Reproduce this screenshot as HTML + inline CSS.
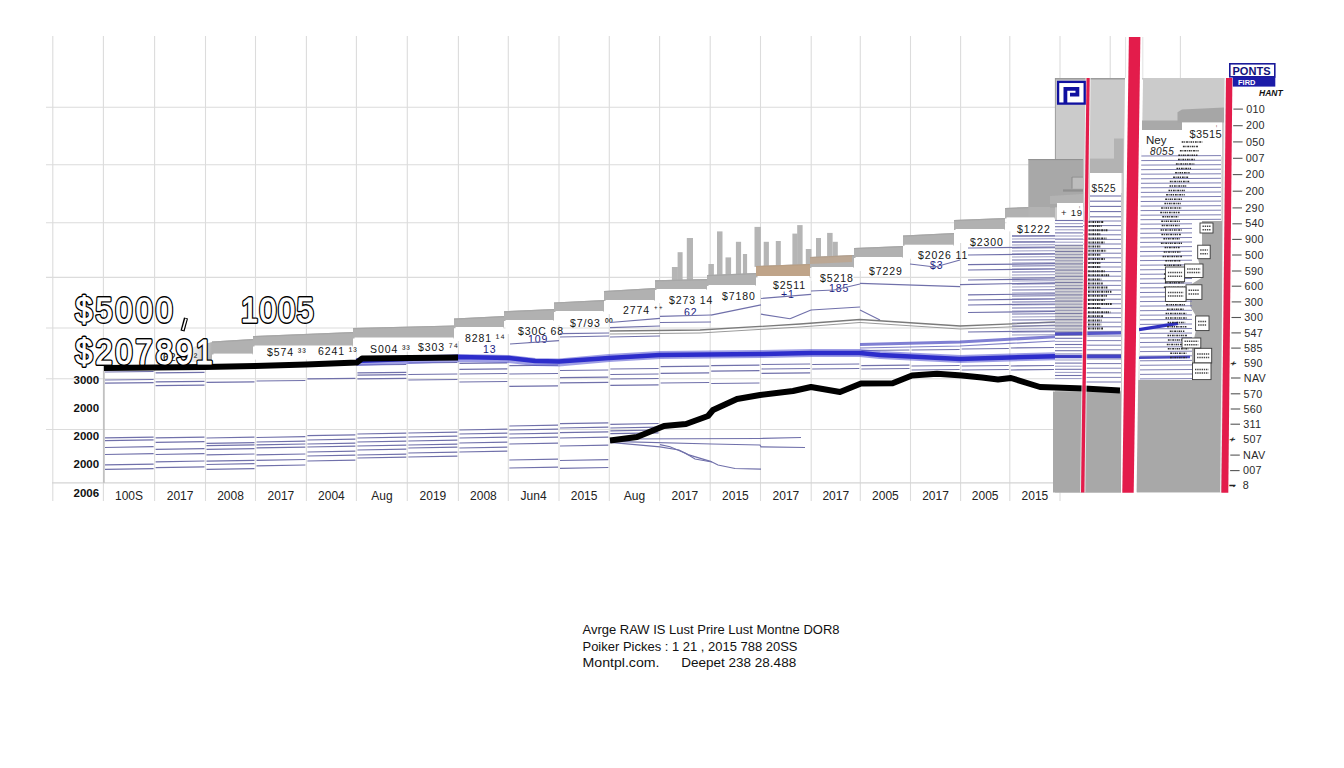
<!DOCTYPE html><html><head><meta charset="utf-8"><style>html,body{margin:0;padding:0;background:#fff;width:1344px;height:768px;overflow:hidden}svg{display:block;font-family:"Liberation Sans",sans-serif}</style></head><body>
<svg width="1344" height="768" viewBox="0 0 1344 768">
<rect width="1344" height="768" fill="#fff"/>
<path d="M52.8 36V501 M103.4 36V501 M154.6 36V501 M205.5 36V501 M255.5 36V501 M306.4 36V501 M356.4 36V501 M407.3 36V501 M458.4 36V501 M508.3 36V501 M559 36V501 M609.3 36V501 M659.6 36V501 M710.2 36V501 M760.5 36V501 M811.2 36V501 M860.3 36V501 M910.5 36V501 M960.6 36V501 M1009.8 36V501 M1060 36V501 M46 107.2H1060 M46 164.7H1060 M46 222.7H1060 M46 277.4H1060 M46 328H1060 M46 378.8H1060 M46 429.5H1060 M1110.2 36V78M1180.4 36V78" stroke="#dcdcdc" stroke-width="1.1" fill="none"/>
<path d="M52 482.8H1055" stroke="#d4d4d4" stroke-width="1.2"/>
<path d="M104 365V482.8" stroke="#b0b0b0" stroke-width="1.2"/>
<rect x="671.9" y="267" width="6" height="13.8" fill="#b5b5b5"/>
<rect x="677.6" y="252.2" width="5" height="28.5" fill="#b5b5b5"/>
<rect x="686.8" y="238" width="6.2" height="42.4" fill="#b5b5b5"/>
<rect x="708.4" y="264" width="5.5" height="11.8" fill="#b5b5b5"/>
<rect x="717" y="231.4" width="5.5" height="44.1" fill="#b5b5b5"/>
<rect x="725.5" y="257.4" width="5.6" height="17.7" fill="#b5b5b5"/>
<rect x="735.9" y="241.8" width="5.2" height="32.9" fill="#b5b5b5"/>
<rect x="742.9" y="254" width="4.2" height="20.4" fill="#b5b5b5"/>
<rect x="754.5" y="226.9" width="6.4" height="40.0" fill="#b5b5b5"/>
<rect x="763.7" y="241.8" width="5.2" height="24.8" fill="#b5b5b5"/>
<rect x="775.8" y="241" width="5" height="25.2" fill="#b5b5b5"/>
<rect x="792.4" y="233.6" width="5.2" height="32.0" fill="#b5b5b5"/>
<rect x="797.2" y="225.1" width="5.4" height="40.3" fill="#b5b5b5"/>
<rect x="805.8" y="249" width="5.6" height="16.1" fill="#b5b5b5"/>
<rect x="816" y="238" width="5" height="19.6" fill="#b5b5b5"/>
<rect x="827.1" y="232.9" width="5.5" height="24.2" fill="#b5b5b5"/>
<rect x="832.6" y="241.8" width="5.2" height="15.1" fill="#b5b5b5"/>
<polygon points="212,341.5 253,339 253,354.6 212,354.6" fill="#b1b1b1"/>
<line x1="212" y1="342.1" x2="253" y2="339.6" stroke="#a6a6a6" stroke-width="1.2"/>
<rect x="213.5" y="353.6" width="39" height="14" fill="#fff"/>
<polygon points="253,336 353,332 353,346.5 253,346.5" fill="#b1b1b1"/>
<line x1="253" y1="336.6" x2="353" y2="332.6" stroke="#a6a6a6" stroke-width="1.2"/>
<rect x="254.5" y="345.5" width="98" height="14" fill="#fff"/>
<polygon points="353,328 454,325.4 454,338.5 353,338.5" fill="#b1b1b1"/>
<line x1="353" y1="328.6" x2="454" y2="326.0" stroke="#a6a6a6" stroke-width="1.2"/>
<rect x="354.5" y="337.5" width="99" height="14" fill="#fff"/>
<polygon points="454,318.5 504,316 504,328 454,328" fill="#b1b1b1"/>
<line x1="454" y1="319.1" x2="504" y2="316.6" stroke="#a6a6a6" stroke-width="1.2"/>
<rect x="455.5" y="327" width="48" height="14" fill="#fff"/>
<polygon points="504,311.3 554,309 554,321 504,321" fill="#b1b1b1"/>
<line x1="504" y1="311.90000000000003" x2="554" y2="309.6" stroke="#a6a6a6" stroke-width="1.2"/>
<rect x="505.5" y="320" width="48" height="14" fill="#fff"/>
<polygon points="554,302.4 604,300 604,312 554,312" fill="#b1b1b1"/>
<line x1="554" y1="303.0" x2="604" y2="300.6" stroke="#a6a6a6" stroke-width="1.2"/>
<rect x="555.5" y="311" width="48" height="14" fill="#fff"/>
<polygon points="604,291 655,288 655,301 604,301" fill="#b1b1b1"/>
<line x1="604" y1="291.6" x2="655" y2="288.6" stroke="#a6a6a6" stroke-width="1.2"/>
<rect x="605.5" y="300" width="49" height="14" fill="#fff"/>
<polygon points="655,280.3 707,279 707,290 655,290" fill="#b1b1b1"/>
<line x1="655" y1="280.90000000000003" x2="707" y2="279.6" stroke="#a6a6a6" stroke-width="1.2"/>
<rect x="656.5" y="289" width="50" height="14" fill="#fff"/>
<polygon points="707,275 756,273 756,286 707,286" fill="#b1b1b1"/>
<line x1="707" y1="275.6" x2="756" y2="273.6" stroke="#a6a6a6" stroke-width="1.2"/>
<rect x="708.5" y="285" width="47" height="14" fill="#fff"/>
<polygon points="756,266 810,264 810,277 756,277" fill="#b1b1b1"/>
<line x1="756" y1="266.6" x2="810" y2="264.6" stroke="#a6a6a6" stroke-width="1.2"/>
<rect x="757.5" y="276" width="52" height="14" fill="#fff"/>
<polygon points="810,257 854,255 854,268 810,268" fill="#b1b1b1"/>
<line x1="810" y1="257.6" x2="854" y2="255.6" stroke="#a6a6a6" stroke-width="1.2"/>
<rect x="811.5" y="267" width="42" height="14" fill="#fff"/>
<polygon points="854,248 903,246 903,258 854,258" fill="#b1b1b1"/>
<line x1="854" y1="248.6" x2="903" y2="246.6" stroke="#a6a6a6" stroke-width="1.2"/>
<rect x="855.5" y="257" width="47" height="14" fill="#fff"/>
<polygon points="903,235.5 954,233 954,245.7 903,245.7" fill="#b1b1b1"/>
<line x1="903" y1="236.1" x2="954" y2="233.6" stroke="#a6a6a6" stroke-width="1.2"/>
<rect x="904.5" y="244.7" width="49" height="14" fill="#fff"/>
<polygon points="954,220 1005,218 1005,230 954,230" fill="#b1b1b1"/>
<line x1="954" y1="220.6" x2="1005" y2="218.6" stroke="#a6a6a6" stroke-width="1.2"/>
<rect x="955.5" y="229" width="49" height="14" fill="#fff"/>
<polygon points="1005,208 1055,206 1055,218.4 1005,218.4" fill="#b1b1b1"/>
<line x1="1005" y1="208.6" x2="1055" y2="206.6" stroke="#a6a6a6" stroke-width="1.2"/>
<rect x="1006.5" y="217.4" width="48" height="14" fill="#fff"/>
<polygon points="756,266 810,264 810,276 756,276" fill="#d8914a" fill-opacity="0.38"/>
<polygon points="810,257 852,255 852,262 810,264" fill="#d8914a" fill-opacity="0.28"/>
<defs><linearGradient id="gg" x1="0" y1="0" x2="1" y2="0"><stop offset="0" stop-color="#fff" stop-opacity="0"/><stop offset="1" stop-color="#b0b0b0"/></linearGradient></defs>
<polygon points="175,352 212,342 212,362 175,362" fill="url(#gg)"/>
<text x="163" y="361" font-size="10.5" fill="#151515" letter-spacing="0.9">6229 ²</text>
<text x="267" y="356" font-size="10.5" fill="#151515" letter-spacing="0.9">$574 ³³</text>
<text x="318" y="355" font-size="10.5" fill="#151515" letter-spacing="0.9">6241 ¹³</text>
<text x="370" y="352.5" font-size="10.5" fill="#151515" letter-spacing="0.9">S004 ³³</text>
<text x="418" y="350.5" font-size="10.5" fill="#151515" letter-spacing="0.9">$303 ⁷⁴</text>
<text x="465" y="342" font-size="10.5" fill="#151515" letter-spacing="0.9">8281 ¹⁴</text>
<text x="483" y="353" font-size="10.5" fill="#1a1a80" letter-spacing="0.9">13</text>
<text x="518" y="335" font-size="10.5" fill="#151515" letter-spacing="0.9">$30C 68</text>
<text x="528" y="343" font-size="10.5" fill="#1a1a80" letter-spacing="0.9">109</text>
<text x="570" y="327" font-size="10.5" fill="#151515" letter-spacing="0.9">$7/93 ⁰⁰</text>
<text x="623" y="314" font-size="10.5" fill="#151515" letter-spacing="0.9">2774 ⁺⁺</text>
<text x="669" y="304" font-size="10.5" fill="#151515" letter-spacing="0.9">$273 14</text>
<text x="684" y="316" font-size="10.5" fill="#1a1a80" letter-spacing="0.9">62</text>
<text x="722" y="300" font-size="10.5" fill="#151515" letter-spacing="0.9">$7180</text>
<text x="773" y="289" font-size="10.5" fill="#151515" letter-spacing="0.9">$2511</text>
<text x="781" y="298" font-size="10.5" fill="#1a1a80" letter-spacing="0.9">+1</text>
<text x="820" y="282" font-size="10.5" fill="#151515" letter-spacing="0.9">$5218</text>
<text x="829" y="292" font-size="10.5" fill="#1a1a80" letter-spacing="0.9">185</text>
<text x="869" y="275" font-size="10.5" fill="#151515" letter-spacing="0.9">$7229</text>
<text x="918" y="259" font-size="10.5" fill="#151515" letter-spacing="0.9">$2026 11</text>
<text x="930" y="269" font-size="10.5" fill="#1a1a80" letter-spacing="0.9">$3</text>
<text x="970" y="246" font-size="10.5" fill="#151515" letter-spacing="0.9">$2300</text>
<text x="1017" y="233" font-size="10.5" fill="#151515" letter-spacing="0.9">$1222</text>
<line x1="105" y1="372" x2="153.6" y2="371.5" stroke="#7070aa" stroke-width="1.2"/>
<line x1="105" y1="380" x2="153.6" y2="379.5" stroke="#7070aa" stroke-width="1.2"/>
<line x1="105" y1="383.2" x2="153.6" y2="382.7" stroke="#7070aa" stroke-width="1.2"/>
<line x1="155.6" y1="372.8" x2="204.5" y2="372.3" stroke="#7070aa" stroke-width="1.2"/>
<line x1="155.6" y1="381.9" x2="204.5" y2="381.4" stroke="#7070aa" stroke-width="1.2"/>
<line x1="155.6" y1="385.6" x2="204.5" y2="385.1" stroke="#7070aa" stroke-width="1.2"/>
<line x1="206.5" y1="382.3" x2="254.5" y2="381.8" stroke="#7070aa" stroke-width="1.2"/>
<line x1="256.5" y1="381" x2="305.4" y2="380.5" stroke="#7070aa" stroke-width="1.2"/>
<line x1="307.4" y1="378.8" x2="355.4" y2="378.3" stroke="#7070aa" stroke-width="1.2"/>
<line x1="357.4" y1="365" x2="406.3" y2="364.5" stroke="#7070aa" stroke-width="1.2"/>
<line x1="357.4" y1="372.9" x2="406.3" y2="372.4" stroke="#7070aa" stroke-width="1.2"/>
<line x1="357.4" y1="375.2" x2="406.3" y2="374.7" stroke="#7070aa" stroke-width="1.2"/>
<line x1="357.4" y1="378.8" x2="406.3" y2="378.3" stroke="#7070aa" stroke-width="1.2"/>
<line x1="408.3" y1="363" x2="457.4" y2="362.5" stroke="#7070aa" stroke-width="1.2"/>
<line x1="408.3" y1="374.5" x2="457.4" y2="374.0" stroke="#7070aa" stroke-width="1.2"/>
<line x1="408.3" y1="380" x2="457.4" y2="379.5" stroke="#7070aa" stroke-width="1.2"/>
<line x1="459.4" y1="363.3" x2="507.3" y2="362.8" stroke="#7070aa" stroke-width="1.2"/>
<line x1="459.4" y1="369.3" x2="507.3" y2="368.8" stroke="#7070aa" stroke-width="1.2"/>
<line x1="459.4" y1="374" x2="507.3" y2="373.5" stroke="#7070aa" stroke-width="1.2"/>
<line x1="459.4" y1="382" x2="507.3" y2="381.5" stroke="#7070aa" stroke-width="1.2"/>
<line x1="509.3" y1="365.7" x2="558" y2="365.2" stroke="#7070aa" stroke-width="1.2"/>
<line x1="509.3" y1="374" x2="558" y2="373.5" stroke="#7070aa" stroke-width="1.2"/>
<line x1="509.3" y1="386.4" x2="558" y2="385.9" stroke="#7070aa" stroke-width="1.2"/>
<line x1="560" y1="370.5" x2="608.3" y2="370.0" stroke="#7070aa" stroke-width="1.2"/>
<line x1="560" y1="377.6" x2="608.3" y2="377.1" stroke="#7070aa" stroke-width="1.2"/>
<line x1="560" y1="382.9" x2="608.3" y2="382.4" stroke="#7070aa" stroke-width="1.2"/>
<line x1="610.3" y1="369" x2="658.6" y2="368.5" stroke="#7070aa" stroke-width="1.2"/>
<line x1="610.3" y1="374.5" x2="658.6" y2="374.0" stroke="#7070aa" stroke-width="1.2"/>
<line x1="610.3" y1="379" x2="658.6" y2="378.5" stroke="#7070aa" stroke-width="1.2"/>
<line x1="610.3" y1="385.3" x2="658.6" y2="384.8" stroke="#7070aa" stroke-width="1.2"/>
<line x1="660.6" y1="366.7" x2="709.2" y2="366.2" stroke="#7070aa" stroke-width="1.2"/>
<line x1="660.6" y1="373.4" x2="709.2" y2="372.9" stroke="#7070aa" stroke-width="1.2"/>
<line x1="660.6" y1="383" x2="709.2" y2="382.5" stroke="#7070aa" stroke-width="1.2"/>
<line x1="711.2" y1="365.6" x2="759.5" y2="365.1" stroke="#7070aa" stroke-width="1.2"/>
<line x1="711.2" y1="371.2" x2="759.5" y2="370.7" stroke="#7070aa" stroke-width="1.2"/>
<line x1="711.2" y1="383.5" x2="759.5" y2="383.0" stroke="#7070aa" stroke-width="1.2"/>
<line x1="761.5" y1="364.5" x2="810.2" y2="364.0" stroke="#7070aa" stroke-width="1.2"/>
<line x1="761.5" y1="369" x2="810.2" y2="368.5" stroke="#7070aa" stroke-width="1.2"/>
<line x1="761.5" y1="373.4" x2="810.2" y2="372.9" stroke="#7070aa" stroke-width="1.2"/>
<line x1="812.2" y1="364.5" x2="859.3" y2="364.0" stroke="#7070aa" stroke-width="1.2"/>
<line x1="812.2" y1="369" x2="859.3" y2="368.5" stroke="#7070aa" stroke-width="1.2"/>
<line x1="861.3" y1="350.5" x2="909.5" y2="350.0" stroke="#7070aa" stroke-width="1.2"/>
<line x1="861.3" y1="365.6" x2="909.5" y2="365.1" stroke="#7070aa" stroke-width="1.2"/>
<line x1="861.3" y1="369" x2="909.5" y2="368.5" stroke="#7070aa" stroke-width="1.2"/>
<line x1="911.5" y1="350" x2="959.6" y2="349.5" stroke="#7070aa" stroke-width="1.2"/>
<line x1="911.5" y1="366" x2="959.6" y2="365.5" stroke="#7070aa" stroke-width="1.2"/>
<line x1="911.5" y1="370" x2="959.6" y2="369.5" stroke="#7070aa" stroke-width="1.2"/>
<line x1="961.6" y1="349" x2="1008.8" y2="348.5" stroke="#7070aa" stroke-width="1.2"/>
<line x1="961.6" y1="366" x2="1008.8" y2="365.5" stroke="#7070aa" stroke-width="1.2"/>
<line x1="961.6" y1="370" x2="1008.8" y2="369.5" stroke="#7070aa" stroke-width="1.2"/>
<line x1="1010.8" y1="348" x2="1054" y2="347.5" stroke="#7070aa" stroke-width="1.2"/>
<line x1="1010.8" y1="366" x2="1054" y2="365.5" stroke="#7070aa" stroke-width="1.2"/>
<line x1="1010.8" y1="370" x2="1054" y2="369.5" stroke="#7070aa" stroke-width="1.2"/>
<line x1="105" y1="437.9" x2="153.6" y2="437.09999999999997" stroke="#7070aa" stroke-width="1.2"/>
<line x1="105" y1="440.6" x2="153.6" y2="439.8" stroke="#7070aa" stroke-width="1.2"/>
<line x1="105" y1="447.5" x2="153.6" y2="446.7" stroke="#7070aa" stroke-width="1.2"/>
<line x1="105" y1="454.5" x2="153.6" y2="453.7" stroke="#7070aa" stroke-width="1.2"/>
<line x1="105" y1="464.9" x2="153.6" y2="464.09999999999997" stroke="#7070aa" stroke-width="1.2"/>
<line x1="105" y1="469.4" x2="153.6" y2="468.59999999999997" stroke="#7070aa" stroke-width="1.2"/>
<line x1="155.6" y1="437.9" x2="204.5" y2="437.09999999999997" stroke="#7070aa" stroke-width="1.2"/>
<line x1="155.6" y1="442.4" x2="204.5" y2="441.59999999999997" stroke="#7070aa" stroke-width="1.2"/>
<line x1="155.6" y1="449.4" x2="204.5" y2="448.59999999999997" stroke="#7070aa" stroke-width="1.2"/>
<line x1="155.6" y1="454.5" x2="204.5" y2="453.7" stroke="#7070aa" stroke-width="1.2"/>
<line x1="155.6" y1="461.8" x2="204.5" y2="461.0" stroke="#7070aa" stroke-width="1.2"/>
<line x1="155.6" y1="467.6" x2="204.5" y2="466.8" stroke="#7070aa" stroke-width="1.2"/>
<line x1="206.5" y1="438" x2="254.5" y2="437.2" stroke="#7070aa" stroke-width="1.2"/>
<line x1="206.5" y1="443.4" x2="254.5" y2="442.59999999999997" stroke="#7070aa" stroke-width="1.2"/>
<line x1="206.5" y1="445.7" x2="254.5" y2="444.9" stroke="#7070aa" stroke-width="1.2"/>
<line x1="206.5" y1="449.4" x2="254.5" y2="448.59999999999997" stroke="#7070aa" stroke-width="1.2"/>
<line x1="206.5" y1="454.8" x2="254.5" y2="454.0" stroke="#7070aa" stroke-width="1.2"/>
<line x1="206.5" y1="461.2" x2="254.5" y2="460.4" stroke="#7070aa" stroke-width="1.2"/>
<line x1="206.5" y1="464.5" x2="254.5" y2="463.7" stroke="#7070aa" stroke-width="1.2"/>
<line x1="206.5" y1="469.4" x2="254.5" y2="468.59999999999997" stroke="#7070aa" stroke-width="1.2"/>
<line x1="256.5" y1="437.5" x2="305.4" y2="436.7" stroke="#7070aa" stroke-width="1.2"/>
<line x1="256.5" y1="442" x2="305.4" y2="441.2" stroke="#7070aa" stroke-width="1.2"/>
<line x1="256.5" y1="444.8" x2="305.4" y2="444.0" stroke="#7070aa" stroke-width="1.2"/>
<line x1="256.5" y1="447.9" x2="305.4" y2="447.09999999999997" stroke="#7070aa" stroke-width="1.2"/>
<line x1="256.5" y1="454.8" x2="305.4" y2="454.0" stroke="#7070aa" stroke-width="1.2"/>
<line x1="256.5" y1="460.3" x2="305.4" y2="459.5" stroke="#7070aa" stroke-width="1.2"/>
<line x1="256.5" y1="465.8" x2="305.4" y2="465.0" stroke="#7070aa" stroke-width="1.2"/>
<line x1="307.4" y1="435.7" x2="355.4" y2="434.9" stroke="#7070aa" stroke-width="1.2"/>
<line x1="307.4" y1="440" x2="355.4" y2="439.2" stroke="#7070aa" stroke-width="1.2"/>
<line x1="307.4" y1="444" x2="355.4" y2="443.2" stroke="#7070aa" stroke-width="1.2"/>
<line x1="307.4" y1="447" x2="355.4" y2="446.2" stroke="#7070aa" stroke-width="1.2"/>
<line x1="307.4" y1="452" x2="355.4" y2="451.2" stroke="#7070aa" stroke-width="1.2"/>
<line x1="307.4" y1="456" x2="355.4" y2="455.2" stroke="#7070aa" stroke-width="1.2"/>
<line x1="307.4" y1="461" x2="355.4" y2="460.2" stroke="#7070aa" stroke-width="1.2"/>
<line x1="357.4" y1="434" x2="406.3" y2="433.2" stroke="#7070aa" stroke-width="1.2"/>
<line x1="357.4" y1="438" x2="406.3" y2="437.2" stroke="#7070aa" stroke-width="1.2"/>
<line x1="357.4" y1="442" x2="406.3" y2="441.2" stroke="#7070aa" stroke-width="1.2"/>
<line x1="357.4" y1="446" x2="406.3" y2="445.2" stroke="#7070aa" stroke-width="1.2"/>
<line x1="357.4" y1="450" x2="406.3" y2="449.2" stroke="#7070aa" stroke-width="1.2"/>
<line x1="357.4" y1="455" x2="406.3" y2="454.2" stroke="#7070aa" stroke-width="1.2"/>
<line x1="357.4" y1="458" x2="406.3" y2="457.2" stroke="#7070aa" stroke-width="1.2"/>
<line x1="408.3" y1="433" x2="457.4" y2="432.2" stroke="#7070aa" stroke-width="1.2"/>
<line x1="408.3" y1="437" x2="457.4" y2="436.2" stroke="#7070aa" stroke-width="1.2"/>
<line x1="408.3" y1="441" x2="457.4" y2="440.2" stroke="#7070aa" stroke-width="1.2"/>
<line x1="408.3" y1="445" x2="457.4" y2="444.2" stroke="#7070aa" stroke-width="1.2"/>
<line x1="408.3" y1="448" x2="457.4" y2="447.2" stroke="#7070aa" stroke-width="1.2"/>
<line x1="408.3" y1="453" x2="457.4" y2="452.2" stroke="#7070aa" stroke-width="1.2"/>
<line x1="408.3" y1="457" x2="457.4" y2="456.2" stroke="#7070aa" stroke-width="1.2"/>
<line x1="459.4" y1="430" x2="507.3" y2="429.2" stroke="#7070aa" stroke-width="1.2"/>
<line x1="459.4" y1="434" x2="507.3" y2="433.2" stroke="#7070aa" stroke-width="1.2"/>
<line x1="459.4" y1="438" x2="507.3" y2="437.2" stroke="#7070aa" stroke-width="1.2"/>
<line x1="459.4" y1="443" x2="507.3" y2="442.2" stroke="#7070aa" stroke-width="1.2"/>
<line x1="459.4" y1="448" x2="507.3" y2="447.2" stroke="#7070aa" stroke-width="1.2"/>
<line x1="459.4" y1="452" x2="507.3" y2="451.2" stroke="#7070aa" stroke-width="1.2"/>
<line x1="509.3" y1="426" x2="558" y2="425.2" stroke="#7070aa" stroke-width="1.2"/>
<line x1="509.3" y1="430" x2="558" y2="429.2" stroke="#7070aa" stroke-width="1.2"/>
<line x1="509.3" y1="434" x2="558" y2="433.2" stroke="#7070aa" stroke-width="1.2"/>
<line x1="509.3" y1="438" x2="558" y2="437.2" stroke="#7070aa" stroke-width="1.2"/>
<line x1="509.3" y1="444" x2="558" y2="443.2" stroke="#7070aa" stroke-width="1.2"/>
<line x1="509.3" y1="460" x2="558" y2="459.2" stroke="#7070aa" stroke-width="1.2"/>
<line x1="509.3" y1="468" x2="558" y2="467.2" stroke="#7070aa" stroke-width="1.2"/>
<line x1="560" y1="423.7" x2="608.3" y2="422.9" stroke="#7070aa" stroke-width="1.2"/>
<line x1="560" y1="428" x2="608.3" y2="427.2" stroke="#7070aa" stroke-width="1.2"/>
<line x1="560" y1="432.6" x2="608.3" y2="431.8" stroke="#7070aa" stroke-width="1.2"/>
<line x1="560" y1="438" x2="608.3" y2="437.2" stroke="#7070aa" stroke-width="1.2"/>
<line x1="560" y1="446" x2="608.3" y2="445.2" stroke="#7070aa" stroke-width="1.2"/>
<line x1="560" y1="460.5" x2="608.3" y2="459.7" stroke="#7070aa" stroke-width="1.2"/>
<line x1="560" y1="468.3" x2="608.3" y2="467.5" stroke="#7070aa" stroke-width="1.2"/>
<line x1="610.3" y1="424.3" x2="658.6" y2="423.5" stroke="#7070aa" stroke-width="1.2"/>
<line x1="610.3" y1="428" x2="658.6" y2="427.2" stroke="#7070aa" stroke-width="1.2"/>
<line x1="610.3" y1="430.8" x2="658.6" y2="430.0" stroke="#7070aa" stroke-width="1.2"/>
<line x1="610.3" y1="433.7" x2="658.6" y2="432.9" stroke="#7070aa" stroke-width="1.2"/>
<path d="M610 439 L760 438.5 L801 437.5" fill="none" stroke="#7070aa" stroke-width="1.2"/>
<path d="M610 441.3 L712 444 L760 445 L761 446.8 L805 447.5" fill="none" stroke="#7070aa" stroke-width="1.2"/>
<path d="M610 442.4 L660 446.8 L679 450 L688 454.6 L710.5 461.3 L718 465 L735 468.5 L761 469.2" fill="none" stroke="#7070aa" stroke-width="1.2"/>
<path d="M660 444.6 L670 446.8 L686 453.5 L695 459 L712 462" fill="none" stroke="#7070aa" stroke-width="1.1"/>
<line x1="510" y1="344" x2="559" y2="340.7" stroke="#7070aa" stroke-width="1.2"/>
<line x1="560" y1="333.6" x2="609" y2="333" stroke="#7070aa" stroke-width="1.2"/>
<line x1="560" y1="337" x2="609" y2="336" stroke="#7070aa" stroke-width="1.2"/>
<line x1="610" y1="322.5" x2="660" y2="318.3" stroke="#7070aa" stroke-width="1.2"/>
<line x1="610" y1="327.7" x2="660" y2="326" stroke="#7070aa" stroke-width="1.2"/>
<line x1="610" y1="337" x2="660" y2="336" stroke="#7070aa" stroke-width="1.2"/>
<line x1="660" y1="316.3" x2="711" y2="315" stroke="#7070aa" stroke-width="1.2"/>
<line x1="660" y1="322.5" x2="711" y2="322" stroke="#7070aa" stroke-width="1.2"/>
<line x1="711" y1="315.2" x2="761" y2="304.8" stroke="#7070aa" stroke-width="1.2"/>
<line x1="761" y1="298.5" x2="811" y2="294.4" stroke="#7070aa" stroke-width="1.2"/>
<line x1="761" y1="314.2" x2="790" y2="318.75" stroke="#7070aa" stroke-width="1.2"/>
<line x1="790" y1="318.75" x2="811" y2="310" stroke="#7070aa" stroke-width="1.2"/>
<line x1="811" y1="291" x2="834" y2="290" stroke="#7070aa" stroke-width="1.2"/>
<line x1="834" y1="290" x2="860" y2="284" stroke="#7070aa" stroke-width="1.2"/>
<line x1="811" y1="310" x2="860" y2="307" stroke="#7070aa" stroke-width="1.2"/>
<line x1="860" y1="283.3" x2="960" y2="286.7" stroke="#7070aa" stroke-width="1.2"/>
<line x1="960" y1="284.6" x2="1055" y2="282.8" stroke="#7070aa" stroke-width="1.2"/>
<line x1="860" y1="310" x2="880" y2="320" stroke="#7070aa" stroke-width="1.2"/>
<line x1="910" y1="264" x2="935" y2="267" stroke="#7070aa" stroke-width="1.2"/>
<line x1="935" y1="267" x2="960" y2="260" stroke="#7070aa" stroke-width="1.2"/>
<line x1="968" y1="248" x2="1055" y2="247" stroke="#7070aa" stroke-width="1.2"/>
<line x1="968" y1="255" x2="1055" y2="254" stroke="#7070aa" stroke-width="1.2"/>
<line x1="968" y1="264.6" x2="1055" y2="263.6" stroke="#7070aa" stroke-width="1.2"/>
<line x1="968" y1="270" x2="1055" y2="269" stroke="#7070aa" stroke-width="1.2"/>
<line x1="968" y1="280" x2="1055" y2="279" stroke="#7070aa" stroke-width="1.2"/>
<line x1="968" y1="294.8" x2="1055" y2="293.8" stroke="#7070aa" stroke-width="1.2"/>
<line x1="968" y1="300" x2="1055" y2="299" stroke="#7070aa" stroke-width="1.2"/>
<line x1="968" y1="305" x2="1055" y2="304" stroke="#7070aa" stroke-width="1.2"/>
<line x1="968" y1="312.5" x2="1055" y2="311.5" stroke="#7070aa" stroke-width="1.2"/>
<line x1="968" y1="332" x2="1055" y2="331" stroke="#7070aa" stroke-width="1.2"/>
<line x1="1012" y1="236" x2="1055" y2="236" stroke="#7070aa" stroke-width="1.2"/>
<line x1="1012" y1="242" x2="1055" y2="242" stroke="#7070aa" stroke-width="1.2"/>
<polyline points="610,331 700,330 800,324 860,319.5 960,326 1055,322" fill="none" stroke="#7a7a7a" stroke-width="1.3"/>
<polyline points="610,334 700,333 800,327 860,322.5 960,329 1055,325" fill="none" stroke="#9a9a9a" stroke-width="1"/>
<polyline points="356,362 458,358 509,359 535,362 559,362.5 609,358 660,355 760,354 811,353 860,353 880,355 960,358.9 1055,356.2" fill="none" stroke="#5050d0" stroke-width="8" stroke-opacity="0.55"/>
<polyline points="356,361 458,357 509,358 535,361 559,361.5 609,358 660,355 760,354 811,353 860,353 880,355 960,358.9 1055,356.2" fill="none" stroke="#2020c8" stroke-width="4.5" stroke-opacity="0.9"/>
<polyline points="860,344.5 960,342 1055,336.7" fill="none" stroke="#4848c0" stroke-width="3" stroke-opacity="0.7"/>
<polyline points="860,348 960,346 1055,341" fill="none" stroke="#6060b8" stroke-width="1.2" stroke-opacity="0.8"/>
<polyline points="104,368 205,367 255,366 306,364.5 357,362.5 362,358.5 458,357.5" fill="none" stroke="#000" stroke-width="6" stroke-linejoin="round"/>
<line x1="1012" y1="236.0" x2="1055" y2="235.7" stroke="#7070aa" stroke-width="1.1"/>
<line x1="1012" y1="239.0" x2="1055" y2="238.7" stroke="#7070aa" stroke-width="0.7"/>
<line x1="1012" y1="242.0" x2="1055" y2="241.7" stroke="#7070aa" stroke-width="1.1"/>
<line x1="1012" y1="245.0" x2="1055" y2="244.7" stroke="#7070aa" stroke-width="0.7"/>
<line x1="1012" y1="248.0" x2="1055" y2="247.7" stroke="#7070aa" stroke-width="1.1"/>
<line x1="1012" y1="251.0" x2="1055" y2="250.7" stroke="#7070aa" stroke-width="0.7"/>
<line x1="1012" y1="254.0" x2="1055" y2="253.7" stroke="#7070aa" stroke-width="1.1"/>
<line x1="1012" y1="257.0" x2="1055" y2="256.7" stroke="#7070aa" stroke-width="0.7"/>
<line x1="1012" y1="260.0" x2="1055" y2="259.7" stroke="#7070aa" stroke-width="1.1"/>
<line x1="1012" y1="263.0" x2="1055" y2="262.7" stroke="#7070aa" stroke-width="0.7"/>
<line x1="1012" y1="266.0" x2="1055" y2="265.7" stroke="#7070aa" stroke-width="1.1"/>
<line x1="1012" y1="269.0" x2="1055" y2="268.7" stroke="#7070aa" stroke-width="0.7"/>
<line x1="1012" y1="272.0" x2="1055" y2="271.7" stroke="#7070aa" stroke-width="1.1"/>
<line x1="1012" y1="275.0" x2="1055" y2="274.7" stroke="#7070aa" stroke-width="0.7"/>
<line x1="1012" y1="278.0" x2="1055" y2="277.7" stroke="#7070aa" stroke-width="1.1"/>
<line x1="1012" y1="281.0" x2="1055" y2="280.7" stroke="#7070aa" stroke-width="0.7"/>
<line x1="1012" y1="284.0" x2="1055" y2="283.7" stroke="#7070aa" stroke-width="1.1"/>
<line x1="1012" y1="287.0" x2="1055" y2="286.7" stroke="#7070aa" stroke-width="0.7"/>
<line x1="1012" y1="290.0" x2="1055" y2="289.7" stroke="#7070aa" stroke-width="1.1"/>
<line x1="1012" y1="293.0" x2="1055" y2="292.7" stroke="#7070aa" stroke-width="0.7"/>
<line x1="1012" y1="296.0" x2="1055" y2="295.7" stroke="#7070aa" stroke-width="1.1"/>
<line x1="1012" y1="299.0" x2="1055" y2="298.7" stroke="#7070aa" stroke-width="0.7"/>
<line x1="1012" y1="302.0" x2="1055" y2="301.7" stroke="#7070aa" stroke-width="1.1"/>
<line x1="1012" y1="305.0" x2="1055" y2="304.7" stroke="#7070aa" stroke-width="0.7"/>
<line x1="1012" y1="308.0" x2="1055" y2="307.7" stroke="#7070aa" stroke-width="1.1"/>
<line x1="1012" y1="311.0" x2="1055" y2="310.7" stroke="#7070aa" stroke-width="0.7"/>
<line x1="1012" y1="314.0" x2="1055" y2="313.7" stroke="#7070aa" stroke-width="1.1"/>
<line x1="1012" y1="317.0" x2="1055" y2="316.7" stroke="#7070aa" stroke-width="0.7"/>
<line x1="1012" y1="320.0" x2="1055" y2="319.7" stroke="#7070aa" stroke-width="1.1"/>
<line x1="1012" y1="323.0" x2="1055" y2="322.7" stroke="#7070aa" stroke-width="0.7"/>
<line x1="1012" y1="326.0" x2="1055" y2="325.7" stroke="#7070aa" stroke-width="1.1"/>
<line x1="1012" y1="329.0" x2="1055" y2="328.7" stroke="#7070aa" stroke-width="0.7"/>
<line x1="1012" y1="332.0" x2="1055" y2="331.7" stroke="#7070aa" stroke-width="1.1"/>
<line x1="1012" y1="335.0" x2="1055" y2="334.7" stroke="#7070aa" stroke-width="0.7"/>
<polygon points="1055,78 1125.4,78 1121,492.7 1055,492.7" fill="#cbcbcb"/>
<path d="M1055 78.7H1221" stroke="#9c9c9c" stroke-width="1.6"/>
<path d="M1055.4 78V160" stroke="#999" stroke-width="0.9"/>
<rect x="1028.3" y="159.3" width="55" height="48" fill="#a8a8a8"/>
<path d="M1028.3 159.6H1083" stroke="#8e8e8e" stroke-width="1"/>
<rect x="1072" y="176.5" width="11" height="12.2" fill="#bdbdbd"/><path d="M1072 177H1083M1072 177V188.7" stroke="#8a8a8a" stroke-width="1"/>
<rect x="1063" y="189.4" width="20" height="2.2" fill="#8f8f8f"/>
<polygon points="1028.3,207 1050,207 1050,217 1028.3,217" fill="#b3b3b3"/>
<polygon points="1050,196 1083,194 1083,204 1050,204" fill="#b3b3b3"/>
<rect x="1057" y="203" width="26" height="17.5" fill="#fff"/>
<text x="1061" y="215.5" font-size="9.5" fill="#222" letter-spacing="0.8">+ 19</text><text x="1079" y="210" font-size="7" fill="#555">ᵎ</text>
<polygon points="1114,138.5 1123.5,138.5 1123,173 1114,173" fill="#b3b3b3"/>
<polygon points="1090,158.6 1121,158.6 1121,173 1090,173" fill="#b3b3b3"/>
<rect x="1090" y="173" width="31.5" height="20" fill="#fff"/>
<text x="1091.5" y="191.5" font-size="10" fill="#222" letter-spacing="0.6">$525</text>
<rect x="1055" y="220.5" width="66" height="170" fill="#fff"/>
<rect x="1090" y="193" width="31" height="28" fill="#fff"/>
<line x1="1090" y1="196.0" x2="1121" y2="196.0" stroke="#7070aa" stroke-width="1.1"/>
<line x1="1090" y1="201.2" x2="1121" y2="201.2" stroke="#7070aa" stroke-width="1.1"/>
<line x1="1090" y1="206.4" x2="1121" y2="206.4" stroke="#7070aa" stroke-width="1.1"/>
<line x1="1090" y1="211.6" x2="1121" y2="211.6" stroke="#7070aa" stroke-width="1.1"/>
<line x1="1090" y1="216.8" x2="1121" y2="216.8" stroke="#7070aa" stroke-width="1.1"/>
<line x1="1083" y1="221.0" x2="1121" y2="221.0" stroke="#7a7ab0" stroke-width="0.95"/>
<line x1="1083" y1="225.6" x2="1121" y2="225.6" stroke="#7070aa" stroke-width="0.95"/>
<line x1="1083" y1="230.2" x2="1121" y2="230.2" stroke="#7a7ab0" stroke-width="0.95"/>
<line x1="1083" y1="234.8" x2="1121" y2="234.8" stroke="#7070aa" stroke-width="0.95"/>
<line x1="1083" y1="239.4" x2="1121" y2="239.4" stroke="#7a7ab0" stroke-width="0.95"/>
<line x1="1083" y1="244.0" x2="1121" y2="244.0" stroke="#7070aa" stroke-width="0.95"/>
<line x1="1083" y1="248.6" x2="1121" y2="248.6" stroke="#7a7ab0" stroke-width="0.95"/>
<line x1="1083" y1="253.2" x2="1121" y2="253.2" stroke="#7070aa" stroke-width="0.95"/>
<line x1="1083" y1="257.8" x2="1121" y2="257.8" stroke="#7a7ab0" stroke-width="0.95"/>
<line x1="1083" y1="262.4" x2="1121" y2="262.4" stroke="#7070aa" stroke-width="0.95"/>
<line x1="1083" y1="267.0" x2="1121" y2="267.0" stroke="#7a7ab0" stroke-width="0.95"/>
<line x1="1083" y1="271.6" x2="1121" y2="271.6" stroke="#7070aa" stroke-width="0.95"/>
<line x1="1083" y1="276.2" x2="1121" y2="276.2" stroke="#7a7ab0" stroke-width="0.95"/>
<line x1="1083" y1="280.8" x2="1121" y2="280.8" stroke="#7070aa" stroke-width="0.95"/>
<line x1="1083" y1="285.4" x2="1121" y2="285.4" stroke="#7a7ab0" stroke-width="0.95"/>
<line x1="1083" y1="290.0" x2="1121" y2="290.0" stroke="#7070aa" stroke-width="0.95"/>
<line x1="1083" y1="294.6" x2="1121" y2="294.6" stroke="#7a7ab0" stroke-width="0.95"/>
<line x1="1083" y1="299.2" x2="1121" y2="299.2" stroke="#7070aa" stroke-width="0.95"/>
<line x1="1083" y1="303.8" x2="1121" y2="303.8" stroke="#7a7ab0" stroke-width="0.95"/>
<line x1="1083" y1="308.4" x2="1121" y2="308.4" stroke="#7070aa" stroke-width="0.95"/>
<line x1="1083" y1="313.0" x2="1121" y2="313.0" stroke="#7a7ab0" stroke-width="0.95"/>
<line x1="1083" y1="317.6" x2="1121" y2="317.6" stroke="#7070aa" stroke-width="0.95"/>
<line x1="1083" y1="322.2" x2="1121" y2="322.2" stroke="#7a7ab0" stroke-width="0.95"/>
<line x1="1083" y1="326.8" x2="1121" y2="326.8" stroke="#7070aa" stroke-width="0.95"/>
<line x1="1083" y1="331.4" x2="1121" y2="331.4" stroke="#7a7ab0" stroke-width="0.95"/>
<line x1="1083" y1="336.0" x2="1121" y2="336.0" stroke="#7070aa" stroke-width="0.95"/>
<line x1="1083" y1="340.6" x2="1121" y2="340.6" stroke="#7a7ab0" stroke-width="0.95"/>
<line x1="1083" y1="345.2" x2="1121" y2="345.2" stroke="#7070aa" stroke-width="0.95"/>
<line x1="1083" y1="349.8" x2="1121" y2="349.8" stroke="#7a7ab0" stroke-width="0.95"/>
<line x1="1083" y1="354.4" x2="1121" y2="354.4" stroke="#7070aa" stroke-width="0.95"/>
<line x1="1083" y1="359.0" x2="1121" y2="359.0" stroke="#7a7ab0" stroke-width="0.95"/>
<line x1="1083" y1="363.6" x2="1121" y2="363.6" stroke="#7070aa" stroke-width="0.95"/>
<line x1="1083" y1="368.2" x2="1121" y2="368.2" stroke="#7a7ab0" stroke-width="0.95"/>
<line x1="1083" y1="372.8" x2="1121" y2="372.8" stroke="#7070aa" stroke-width="0.95"/>
<line x1="1083" y1="377.4" x2="1121" y2="377.4" stroke="#7a7ab0" stroke-width="0.95"/>
<line x1="1083" y1="382.0" x2="1121" y2="382.0" stroke="#7070aa" stroke-width="0.95"/>
<line x1="1055" y1="220.5" x2="1083" y2="220.5" stroke="#7070aa" stroke-width="1.1"/>
<line x1="1055" y1="223.6" x2="1083" y2="223.6" stroke="#7070aa" stroke-width="0.7"/>
<line x1="1055" y1="226.7" x2="1083" y2="226.7" stroke="#7070aa" stroke-width="1.1"/>
<line x1="1055" y1="229.8" x2="1083" y2="229.8" stroke="#7070aa" stroke-width="0.7"/>
<line x1="1055" y1="232.9" x2="1083" y2="232.9" stroke="#7070aa" stroke-width="1.1"/>
<line x1="1055" y1="236.0" x2="1083" y2="236.0" stroke="#7070aa" stroke-width="0.7"/>
<line x1="1055" y1="239.1" x2="1083" y2="239.1" stroke="#7070aa" stroke-width="1.1"/>
<line x1="1055" y1="242.2" x2="1083" y2="242.2" stroke="#7070aa" stroke-width="0.7"/>
<line x1="1055" y1="245.3" x2="1083" y2="245.3" stroke="#7070aa" stroke-width="1.1"/>
<line x1="1055" y1="248.4" x2="1083" y2="248.4" stroke="#7070aa" stroke-width="0.7"/>
<line x1="1055" y1="251.5" x2="1083" y2="251.5" stroke="#7070aa" stroke-width="1.1"/>
<line x1="1055" y1="254.6" x2="1083" y2="254.6" stroke="#7070aa" stroke-width="0.7"/>
<line x1="1055" y1="257.7" x2="1083" y2="257.7" stroke="#7070aa" stroke-width="1.1"/>
<line x1="1055" y1="260.8" x2="1083" y2="260.8" stroke="#7070aa" stroke-width="0.7"/>
<line x1="1055" y1="263.9" x2="1083" y2="263.9" stroke="#7070aa" stroke-width="1.1"/>
<line x1="1055" y1="267.0" x2="1083" y2="267.0" stroke="#7070aa" stroke-width="0.7"/>
<line x1="1055" y1="270.1" x2="1083" y2="270.1" stroke="#7070aa" stroke-width="1.1"/>
<line x1="1055" y1="273.2" x2="1083" y2="273.2" stroke="#7070aa" stroke-width="0.7"/>
<line x1="1055" y1="276.3" x2="1083" y2="276.3" stroke="#7070aa" stroke-width="1.1"/>
<line x1="1055" y1="279.4" x2="1083" y2="279.4" stroke="#7070aa" stroke-width="0.7"/>
<line x1="1055" y1="282.5" x2="1083" y2="282.5" stroke="#7070aa" stroke-width="1.1"/>
<line x1="1055" y1="285.6" x2="1083" y2="285.6" stroke="#7070aa" stroke-width="0.7"/>
<line x1="1055" y1="288.7" x2="1083" y2="288.7" stroke="#7070aa" stroke-width="1.1"/>
<line x1="1055" y1="291.8" x2="1083" y2="291.8" stroke="#7070aa" stroke-width="0.7"/>
<line x1="1055" y1="294.9" x2="1083" y2="294.9" stroke="#7070aa" stroke-width="1.1"/>
<line x1="1055" y1="298.0" x2="1083" y2="298.0" stroke="#7070aa" stroke-width="0.7"/>
<line x1="1055" y1="301.1" x2="1083" y2="301.1" stroke="#7070aa" stroke-width="1.1"/>
<line x1="1055" y1="304.2" x2="1083" y2="304.2" stroke="#7070aa" stroke-width="0.7"/>
<line x1="1055" y1="307.3" x2="1083" y2="307.3" stroke="#7070aa" stroke-width="1.1"/>
<line x1="1055" y1="310.4" x2="1083" y2="310.4" stroke="#7070aa" stroke-width="0.7"/>
<line x1="1055" y1="313.5" x2="1083" y2="313.5" stroke="#7070aa" stroke-width="1.1"/>
<line x1="1055" y1="316.6" x2="1083" y2="316.6" stroke="#7070aa" stroke-width="0.7"/>
<line x1="1055" y1="319.7" x2="1083" y2="319.7" stroke="#7070aa" stroke-width="1.1"/>
<line x1="1055" y1="322.8" x2="1083" y2="322.8" stroke="#7070aa" stroke-width="0.7"/>
<line x1="1055" y1="325.9" x2="1083" y2="325.9" stroke="#7070aa" stroke-width="1.1"/>
<line x1="1055" y1="329.0" x2="1083" y2="329.0" stroke="#7070aa" stroke-width="0.7"/>
<line x1="1055" y1="332.1" x2="1083" y2="332.1" stroke="#7070aa" stroke-width="1.1"/>
<line x1="1055" y1="335.2" x2="1083" y2="335.2" stroke="#7070aa" stroke-width="0.7"/>
<line x1="1055" y1="338.3" x2="1083" y2="338.3" stroke="#7070aa" stroke-width="1.1"/>
<line x1="1055" y1="341.4" x2="1083" y2="341.4" stroke="#7070aa" stroke-width="0.7"/>
<line x1="1055" y1="344.5" x2="1083" y2="344.5" stroke="#7070aa" stroke-width="1.1"/>
<line x1="1055" y1="347.6" x2="1083" y2="347.6" stroke="#7070aa" stroke-width="0.7"/>
<line x1="1055" y1="350.7" x2="1083" y2="350.7" stroke="#7070aa" stroke-width="1.1"/>
<line x1="1055" y1="353.8" x2="1083" y2="353.8" stroke="#7070aa" stroke-width="0.7"/>
<line x1="1055" y1="356.9" x2="1083" y2="356.9" stroke="#7070aa" stroke-width="1.1"/>
<line x1="1055" y1="360.0" x2="1083" y2="360.0" stroke="#7070aa" stroke-width="0.7"/>
<line x1="1055" y1="363.1" x2="1083" y2="363.1" stroke="#7070aa" stroke-width="1.1"/>
<line x1="1055" y1="366.2" x2="1083" y2="366.2" stroke="#7070aa" stroke-width="0.7"/>
<line x1="1055" y1="369.3" x2="1083" y2="369.3" stroke="#7070aa" stroke-width="1.1"/>
<line x1="1055" y1="372.4" x2="1083" y2="372.4" stroke="#7070aa" stroke-width="0.7"/>
<line x1="1055" y1="375.5" x2="1083" y2="375.5" stroke="#7070aa" stroke-width="1.1"/>
<line x1="1055" y1="378.6" x2="1083" y2="378.6" stroke="#7070aa" stroke-width="0.7"/>
<rect x="1055" y="245" width="28" height="91" fill="#8c8c96" fill-opacity="0.4"/>
<line x1="1088.0" y1="222.0" x2="1103.9" y2="222.0" stroke="#2a2a2a" stroke-width="2.0" stroke-dasharray="1.8 0.7 1 0.9"/>
<line x1="1088.0" y1="226.1" x2="1101.8" y2="226.1" stroke="#2a2a2a" stroke-width="2.0" stroke-dasharray="1.8 0.7 1 0.9"/>
<line x1="1088.0" y1="230.2" x2="1107.8" y2="230.2" stroke="#2a2a2a" stroke-width="2.0" stroke-dasharray="1.8 0.7 1 0.9"/>
<line x1="1088.0" y1="234.3" x2="1100.9" y2="234.3" stroke="#2a2a2a" stroke-width="2.0" stroke-dasharray="1.8 0.7 1 0.9"/>
<line x1="1088.0" y1="238.4" x2="1106.4" y2="238.4" stroke="#2a2a2a" stroke-width="2.0" stroke-dasharray="1.8 0.7 1 0.9"/>
<line x1="1088.0" y1="242.5" x2="1104.4" y2="242.5" stroke="#2a2a2a" stroke-width="2.0" stroke-dasharray="1.8 0.7 1 0.9"/>
<line x1="1088.0" y1="246.6" x2="1100.7" y2="246.6" stroke="#2a2a2a" stroke-width="2.0" stroke-dasharray="1.8 0.7 1 0.9"/>
<line x1="1088.0" y1="250.7" x2="1106.1" y2="250.7" stroke="#2a2a2a" stroke-width="2.0" stroke-dasharray="1.8 0.7 1 0.9"/>
<line x1="1088.0" y1="254.8" x2="1100.4" y2="254.8" stroke="#2a2a2a" stroke-width="2.0" stroke-dasharray="1.8 0.7 1 0.9"/>
<line x1="1088.0" y1="258.9" x2="1105.2" y2="258.9" stroke="#2a2a2a" stroke-width="2.0" stroke-dasharray="1.8 0.7 1 0.9"/>
<line x1="1088.0" y1="263.0" x2="1100.8" y2="263.0" stroke="#2a2a2a" stroke-width="2.0" stroke-dasharray="1.8 0.7 1 0.9"/>
<line x1="1088.0" y1="267.1" x2="1101.1" y2="267.1" stroke="#2a2a2a" stroke-width="2.0" stroke-dasharray="1.8 0.7 1 0.9"/>
<line x1="1088.0" y1="271.2" x2="1105.1" y2="271.2" stroke="#2a2a2a" stroke-width="2.0" stroke-dasharray="1.8 0.7 1 0.9"/>
<line x1="1088.0" y1="275.3" x2="1109.9" y2="275.3" stroke="#2a2a2a" stroke-width="2.0" stroke-dasharray="1.8 0.7 1 0.9"/>
<line x1="1088.0" y1="279.4" x2="1101.5" y2="279.4" stroke="#2a2a2a" stroke-width="2.0" stroke-dasharray="1.8 0.7 1 0.9"/>
<line x1="1088.0" y1="283.5" x2="1102.7" y2="283.5" stroke="#2a2a2a" stroke-width="2.0" stroke-dasharray="1.8 0.7 1 0.9"/>
<line x1="1088.0" y1="287.6" x2="1107.5" y2="287.6" stroke="#2a2a2a" stroke-width="2.0" stroke-dasharray="1.8 0.7 1 0.9"/>
<line x1="1088.0" y1="291.7" x2="1111.4" y2="291.7" stroke="#2a2a2a" stroke-width="2.0" stroke-dasharray="1.8 0.7 1 0.9"/>
<line x1="1088.0" y1="295.8" x2="1106.9" y2="295.8" stroke="#2a2a2a" stroke-width="2.0" stroke-dasharray="1.8 0.7 1 0.9"/>
<line x1="1088.0" y1="299.9" x2="1104.8" y2="299.9" stroke="#2a2a2a" stroke-width="2.0" stroke-dasharray="1.8 0.7 1 0.9"/>
<line x1="1088.0" y1="304.0" x2="1111.7" y2="304.0" stroke="#2a2a2a" stroke-width="2.0" stroke-dasharray="1.8 0.7 1 0.9"/>
<line x1="1088.0" y1="308.1" x2="1100.6" y2="308.1" stroke="#2a2a2a" stroke-width="2.0" stroke-dasharray="1.8 0.7 1 0.9"/>
<line x1="1088.0" y1="312.2" x2="1110.3" y2="312.2" stroke="#2a2a2a" stroke-width="2.0" stroke-dasharray="1.8 0.7 1 0.9"/>
<line x1="1088.0" y1="316.3" x2="1103.5" y2="316.3" stroke="#2a2a2a" stroke-width="2.0" stroke-dasharray="1.8 0.7 1 0.9"/>
<line x1="1088.0" y1="320.4" x2="1101.7" y2="320.4" stroke="#2a2a2a" stroke-width="2.0" stroke-dasharray="1.8 0.7 1 0.9"/>
<line x1="1088.0" y1="324.5" x2="1101.4" y2="324.5" stroke="#2a2a2a" stroke-width="2.0" stroke-dasharray="1.8 0.7 1 0.9"/>
<line x1="1088.0" y1="328.6" x2="1103.7" y2="328.6" stroke="#2a2a2a" stroke-width="2.0" stroke-dasharray="1.8 0.7 1 0.9"/>
<line x1="1055" y1="334" x2="1121" y2="333" stroke="#3a3ac0" stroke-width="3.2" stroke-opacity="0.85"/>
<line x1="1055" y1="356.5" x2="1121" y2="356.5" stroke="#3030c0" stroke-width="3.6" stroke-opacity="0.9"/>
<rect x="1053" y="391.5" width="68" height="101" fill="#a8a8a8"/>
<polygon points="1143,78 1226,78 1221.4,492.7 1136.6,492.7" fill="#cbcbcb"/>
<polygon points="1142,120.5 1182,120.5 1182,130 1142,130" fill="#a9a9a9"/>
<polygon points="1177.5,112.3 1182,109.5 1224,107.6 1224,122.5 1177.5,122.5" fill="#a6a6a6"/>
<rect x="1142" y="130" width="40" height="26" fill="#fff"/>
<rect x="1182" y="122.5" width="40" height="34" fill="#fff"/>
<text x="1146" y="143.5" font-size="11.5" fill="#222">Ney</text>
<text x="1150" y="154.5" font-size="10" fill="#222" font-style="italic" letter-spacing="0.5">8055</text>
<text x="1189.5" y="137.5" font-size="11" fill="#222" letter-spacing="0.4">$3515</text>
<text x="1216" y="129" font-size="7" fill="#833">ᵎ</text>
<rect x="1139.4" y="155" width="82" height="229" fill="#fff"/>
<polygon points="1202,221 1222,221 1222,492 1136,492 1136,380 1211,380 1211,363 1192,363 1192,348 1196,330 1196,316 1190,306 1190,285 1203,277 1198,259 1202,245" fill="#a8a8a8"/>
<line x1="1140" y1="156.0" x2="1221" y2="155.6" stroke="#7070aa" stroke-width="0.9"/>
<line x1="1140" y1="160.6" x2="1221" y2="160.2" stroke="#7070aa" stroke-width="0.9"/>
<line x1="1140" y1="165.1" x2="1221" y2="164.7" stroke="#7070aa" stroke-width="0.9"/>
<line x1="1140" y1="169.7" x2="1221" y2="169.2" stroke="#7070aa" stroke-width="0.9"/>
<line x1="1140" y1="174.2" x2="1221" y2="173.8" stroke="#7070aa" stroke-width="0.9"/>
<line x1="1140" y1="178.8" x2="1221" y2="178.3" stroke="#7070aa" stroke-width="0.9"/>
<line x1="1140" y1="183.3" x2="1221" y2="182.9" stroke="#7070aa" stroke-width="0.9"/>
<line x1="1140" y1="187.8" x2="1221" y2="187.4" stroke="#7070aa" stroke-width="0.9"/>
<line x1="1140" y1="192.4" x2="1221" y2="192.0" stroke="#7070aa" stroke-width="0.9"/>
<line x1="1140" y1="196.9" x2="1221" y2="196.5" stroke="#7070aa" stroke-width="0.9"/>
<line x1="1140" y1="201.5" x2="1221" y2="201.1" stroke="#7070aa" stroke-width="0.9"/>
<line x1="1140" y1="206.1" x2="1221" y2="205.7" stroke="#7070aa" stroke-width="0.9"/>
<line x1="1140" y1="210.6" x2="1221" y2="210.2" stroke="#7070aa" stroke-width="0.9"/>
<line x1="1140" y1="215.2" x2="1221" y2="214.8" stroke="#7070aa" stroke-width="0.9"/>
<line x1="1140" y1="219.7" x2="1221" y2="219.3" stroke="#7070aa" stroke-width="0.9"/>
<line x1="1140" y1="224.2" x2="1192" y2="223.8" stroke="#7070aa" stroke-width="0.9"/>
<line x1="1140" y1="228.8" x2="1192" y2="228.4" stroke="#7070aa" stroke-width="0.9"/>
<line x1="1140" y1="233.3" x2="1192" y2="232.9" stroke="#7070aa" stroke-width="0.9"/>
<line x1="1140" y1="237.9" x2="1192" y2="237.5" stroke="#7070aa" stroke-width="0.9"/>
<line x1="1140" y1="242.4" x2="1192" y2="242.0" stroke="#7070aa" stroke-width="0.9"/>
<line x1="1140" y1="247.0" x2="1192" y2="246.6" stroke="#7070aa" stroke-width="0.9"/>
<line x1="1140" y1="251.6" x2="1192" y2="251.2" stroke="#7070aa" stroke-width="0.9"/>
<line x1="1140" y1="256.1" x2="1192" y2="255.7" stroke="#7070aa" stroke-width="0.9"/>
<line x1="1140" y1="260.6" x2="1192" y2="260.2" stroke="#7070aa" stroke-width="0.9"/>
<line x1="1140" y1="265.2" x2="1192" y2="264.8" stroke="#7070aa" stroke-width="0.9"/>
<line x1="1140" y1="269.8" x2="1192" y2="269.4" stroke="#7070aa" stroke-width="0.9"/>
<line x1="1140" y1="274.3" x2="1192" y2="273.9" stroke="#7070aa" stroke-width="0.9"/>
<line x1="1140" y1="278.9" x2="1192" y2="278.5" stroke="#7070aa" stroke-width="0.9"/>
<line x1="1140" y1="283.4" x2="1192" y2="283.0" stroke="#7070aa" stroke-width="0.9"/>
<line x1="1140" y1="287.9" x2="1192" y2="287.6" stroke="#7070aa" stroke-width="0.9"/>
<line x1="1140" y1="292.5" x2="1192" y2="292.1" stroke="#7070aa" stroke-width="0.9"/>
<line x1="1140" y1="297.0" x2="1192" y2="296.6" stroke="#7070aa" stroke-width="0.9"/>
<line x1="1140" y1="301.6" x2="1192" y2="301.2" stroke="#7070aa" stroke-width="0.9"/>
<line x1="1140" y1="306.1" x2="1192" y2="305.8" stroke="#7070aa" stroke-width="0.9"/>
<line x1="1140" y1="310.7" x2="1192" y2="310.3" stroke="#7070aa" stroke-width="0.9"/>
<line x1="1140" y1="315.2" x2="1192" y2="314.9" stroke="#7070aa" stroke-width="0.9"/>
<line x1="1140" y1="319.8" x2="1192" y2="319.4" stroke="#7070aa" stroke-width="0.9"/>
<line x1="1140" y1="324.4" x2="1192" y2="324.0" stroke="#7070aa" stroke-width="0.9"/>
<line x1="1140" y1="328.9" x2="1192" y2="328.5" stroke="#7070aa" stroke-width="0.9"/>
<line x1="1140" y1="333.4" x2="1192" y2="333.1" stroke="#7070aa" stroke-width="0.9"/>
<line x1="1140" y1="338.0" x2="1192" y2="337.6" stroke="#7070aa" stroke-width="0.9"/>
<line x1="1140" y1="342.5" x2="1192" y2="342.1" stroke="#7070aa" stroke-width="0.9"/>
<line x1="1140" y1="347.1" x2="1192" y2="346.7" stroke="#7070aa" stroke-width="0.9"/>
<line x1="1140" y1="351.6" x2="1192" y2="351.2" stroke="#7070aa" stroke-width="0.9"/>
<line x1="1140" y1="356.2" x2="1192" y2="355.8" stroke="#7070aa" stroke-width="0.9"/>
<line x1="1140" y1="360.8" x2="1192" y2="360.4" stroke="#7070aa" stroke-width="0.9"/>
<line x1="1140" y1="365.3" x2="1192" y2="364.9" stroke="#7070aa" stroke-width="0.9"/>
<line x1="1140" y1="369.9" x2="1192" y2="369.5" stroke="#7070aa" stroke-width="0.9"/>
<line x1="1140" y1="374.4" x2="1192" y2="374.0" stroke="#7070aa" stroke-width="0.9"/>
<line x1="1140" y1="378.9" x2="1192" y2="378.6" stroke="#7070aa" stroke-width="0.9"/>
<line x1="1139" y1="329.6" x2="1178" y2="323.3" stroke="#2f2fc0" stroke-width="3.2"/>
<line x1="1139" y1="357.7" x2="1190" y2="357" stroke="#4a4ac0" stroke-width="2.4"/>
<line x1="1181.7" y1="142.0" x2="1202.3" y2="142.0" stroke="#2b2b2b" stroke-width="1.5" stroke-dasharray="1.8 0.7 1 0.9"/>
<line x1="1182.9" y1="146.4" x2="1198.3" y2="146.4" stroke="#2b2b2b" stroke-width="1.5" stroke-dasharray="1.8 0.7 1 0.9"/>
<line x1="1179.9" y1="150.8" x2="1198.6" y2="150.8" stroke="#2b2b2b" stroke-width="1.5" stroke-dasharray="1.8 0.7 1 0.9"/>
<line x1="1178.3" y1="155.2" x2="1197.4" y2="155.2" stroke="#2b2b2b" stroke-width="1.5" stroke-dasharray="1.8 0.7 1 0.9"/>
<line x1="1178.0" y1="159.6" x2="1195.0" y2="159.6" stroke="#2b2b2b" stroke-width="1.5" stroke-dasharray="1.8 0.7 1 0.9"/>
<line x1="1175.9" y1="164.0" x2="1194.3" y2="164.0" stroke="#2b2b2b" stroke-width="1.5" stroke-dasharray="1.8 0.7 1 0.9"/>
<line x1="1176.5" y1="168.4" x2="1191.0" y2="168.4" stroke="#2b2b2b" stroke-width="1.5" stroke-dasharray="1.8 0.7 1 0.9"/>
<line x1="1175.1" y1="172.8" x2="1189.6" y2="172.8" stroke="#2b2b2b" stroke-width="1.5" stroke-dasharray="1.8 0.7 1 0.9"/>
<line x1="1173.1" y1="177.2" x2="1188.8" y2="177.2" stroke="#2b2b2b" stroke-width="1.5" stroke-dasharray="1.8 0.7 1 0.9"/>
<line x1="1169.8" y1="181.6" x2="1189.3" y2="181.6" stroke="#2b2b2b" stroke-width="1.5" stroke-dasharray="1.8 0.7 1 0.9"/>
<line x1="1169.5" y1="186.0" x2="1186.9" y2="186.0" stroke="#2b2b2b" stroke-width="1.5" stroke-dasharray="1.8 0.7 1 0.9"/>
<line x1="1168.5" y1="190.4" x2="1185.0" y2="190.4" stroke="#2b2b2b" stroke-width="1.5" stroke-dasharray="1.8 0.7 1 0.9"/>
<line x1="1166.1" y1="194.8" x2="1184.7" y2="194.8" stroke="#2b2b2b" stroke-width="1.5" stroke-dasharray="1.8 0.7 1 0.9"/>
<line x1="1165.2" y1="199.2" x2="1182.8" y2="199.2" stroke="#2b2b2b" stroke-width="1.5" stroke-dasharray="1.8 0.7 1 0.9"/>
<line x1="1164.4" y1="203.6" x2="1180.8" y2="203.6" stroke="#2b2b2b" stroke-width="1.5" stroke-dasharray="1.8 0.7 1 0.9"/>
<line x1="1161.1" y1="208.0" x2="1181.4" y2="208.0" stroke="#2b2b2b" stroke-width="1.5" stroke-dasharray="1.8 0.7 1 0.9"/>
<line x1="1160.2" y1="212.4" x2="1179.8" y2="212.4" stroke="#2b2b2b" stroke-width="1.5" stroke-dasharray="1.8 0.7 1 0.9"/>
<line x1="1162.3" y1="216.8" x2="1178.3" y2="216.8" stroke="#2b2b2b" stroke-width="1.5" stroke-dasharray="1.8 0.7 1 0.9"/>
<line x1="1161.2" y1="221.2" x2="1179.8" y2="221.2" stroke="#2b2b2b" stroke-width="1.5" stroke-dasharray="1.8 0.7 1 0.9"/>
<line x1="1161.7" y1="225.6" x2="1179.9" y2="225.6" stroke="#2b2b2b" stroke-width="1.5" stroke-dasharray="1.8 0.7 1 0.9"/>
<line x1="1160.6" y1="230.0" x2="1181.6" y2="230.0" stroke="#2b2b2b" stroke-width="1.5" stroke-dasharray="1.8 0.7 1 0.9"/>
<line x1="1161.4" y1="234.4" x2="1181.2" y2="234.4" stroke="#2b2b2b" stroke-width="1.5" stroke-dasharray="1.8 0.7 1 0.9"/>
<line x1="1163.4" y1="238.8" x2="1179.7" y2="238.8" stroke="#2b2b2b" stroke-width="1.5" stroke-dasharray="1.8 0.7 1 0.9"/>
<line x1="1160.9" y1="243.2" x2="1182.8" y2="243.2" stroke="#2b2b2b" stroke-width="1.5" stroke-dasharray="1.8 0.7 1 0.9"/>
<line x1="1164.6" y1="247.6" x2="1179.6" y2="247.6" stroke="#2b2b2b" stroke-width="1.5" stroke-dasharray="1.8 0.7 1 0.9"/>
<line x1="1163.7" y1="252.0" x2="1181.0" y2="252.0" stroke="#2b2b2b" stroke-width="1.5" stroke-dasharray="1.8 0.7 1 0.9"/>
<line x1="1162.6" y1="256.4" x2="1182.6" y2="256.4" stroke="#2b2b2b" stroke-width="1.5" stroke-dasharray="1.8 0.7 1 0.9"/>
<line x1="1165.3" y1="260.8" x2="1180.5" y2="260.8" stroke="#2b2b2b" stroke-width="1.5" stroke-dasharray="1.8 0.7 1 0.9"/>
<line x1="1164.2" y1="265.2" x2="1182.1" y2="265.2" stroke="#2b2b2b" stroke-width="1.5" stroke-dasharray="1.8 0.7 1 0.9"/>
<line x1="1166.2" y1="269.6" x2="1180.5" y2="269.6" stroke="#2b2b2b" stroke-width="1.5" stroke-dasharray="1.8 0.7 1 0.9"/>
<line x1="1164.0" y1="274.0" x2="1183.3" y2="274.0" stroke="#2b2b2b" stroke-width="1.5" stroke-dasharray="1.8 0.7 1 0.9"/>
<line x1="1163.8" y1="278.4" x2="1184.0" y2="278.4" stroke="#2b2b2b" stroke-width="1.5" stroke-dasharray="1.8 0.7 1 0.9"/>
<line x1="1164.9" y1="282.8" x2="1183.5" y2="282.8" stroke="#2b2b2b" stroke-width="1.5" stroke-dasharray="1.8 0.7 1 0.9"/>
<line x1="1163.9" y1="287.2" x2="1184.9" y2="287.2" stroke="#2b2b2b" stroke-width="1.5" stroke-dasharray="1.8 0.7 1 0.9"/>
<line x1="1166.4" y1="291.6" x2="1182.9" y2="291.6" stroke="#2b2b2b" stroke-width="1.5" stroke-dasharray="1.8 0.7 1 0.9"/>
<line x1="1165.2" y1="296.0" x2="1184.7" y2="296.0" stroke="#2b2b2b" stroke-width="1.5" stroke-dasharray="1.8 0.7 1 0.9"/>
<line x1="1165.8" y1="300.4" x2="1184.6" y2="300.4" stroke="#2b2b2b" stroke-width="1.5" stroke-dasharray="1.8 0.7 1 0.9"/>
<line x1="1166.1" y1="304.8" x2="1184.8" y2="304.8" stroke="#2b2b2b" stroke-width="1.5" stroke-dasharray="1.8 0.7 1 0.9"/>
<line x1="1166.9" y1="309.2" x2="1184.5" y2="309.2" stroke="#2b2b2b" stroke-width="1.5" stroke-dasharray="1.8 0.7 1 0.9"/>
<line x1="1165.6" y1="313.6" x2="1186.3" y2="313.6" stroke="#2b2b2b" stroke-width="1.5" stroke-dasharray="1.8 0.7 1 0.9"/>
<line x1="1165.5" y1="318.0" x2="1187.0" y2="318.0" stroke="#2b2b2b" stroke-width="1.5" stroke-dasharray="1.8 0.7 1 0.9"/>
<line x1="1167.6" y1="322.4" x2="1185.4" y2="322.4" stroke="#2b2b2b" stroke-width="1.5" stroke-dasharray="1.8 0.7 1 0.9"/>
<line x1="1167.1" y1="326.8" x2="1186.4" y2="326.8" stroke="#2b2b2b" stroke-width="1.5" stroke-dasharray="1.8 0.7 1 0.9"/>
<line x1="1169.8" y1="331.2" x2="1184.3" y2="331.2" stroke="#2b2b2b" stroke-width="1.5" stroke-dasharray="1.8 0.7 1 0.9"/>
<line x1="1167.5" y1="335.6" x2="1187.1" y2="335.6" stroke="#2b2b2b" stroke-width="1.5" stroke-dasharray="1.8 0.7 1 0.9"/>
<line x1="1167.9" y1="340.0" x2="1187.1" y2="340.0" stroke="#2b2b2b" stroke-width="1.5" stroke-dasharray="1.8 0.7 1 0.9"/>
<line x1="1166.8" y1="344.4" x2="1188.8" y2="344.4" stroke="#2b2b2b" stroke-width="1.5" stroke-dasharray="1.8 0.7 1 0.9"/>
<line x1="1167.8" y1="348.8" x2="1188.3" y2="348.8" stroke="#2b2b2b" stroke-width="1.5" stroke-dasharray="1.8 0.7 1 0.9"/>
<line x1="1170.2" y1="353.2" x2="1186.4" y2="353.2" stroke="#2b2b2b" stroke-width="1.5" stroke-dasharray="1.8 0.7 1 0.9"/>
<line x1="1170.0" y1="357.6" x2="1187.1" y2="357.6" stroke="#2b2b2b" stroke-width="1.5" stroke-dasharray="1.8 0.7 1 0.9"/>
<rect x="1197.7" y="245.2" width="12.5" height="13.5" fill="#fff" stroke="#3a3a3a" stroke-width="0.9"/>
<path d="M1200.2 250.1h7.5M1200.2 253.8h7.5" stroke="#444" stroke-width="1.5" stroke-dasharray="1.4 0.8"/>
<rect x="1184.6" y="264" width="18.4" height="13.5" fill="#fff" stroke="#3a3a3a" stroke-width="0.9"/>
<path d="M1187.1 268.9h13.4M1187.1 272.6h13.4" stroke="#444" stroke-width="1.5" stroke-dasharray="1.4 0.8"/>
<rect x="1165.4" y="267" width="19.2" height="14.7" fill="#fff" stroke="#3a3a3a" stroke-width="0.9"/>
<path d="M1167.9 272.6h14.2M1167.9 276.2h14.2" stroke="#444" stroke-width="1.5" stroke-dasharray="1.4 0.8"/>
<rect x="1186" y="284.8" width="15.9" height="14.6" fill="#fff" stroke="#3a3a3a" stroke-width="0.9"/>
<path d="M1188.5 290.3h10.9M1188.5 293.9h10.9" stroke="#444" stroke-width="1.5" stroke-dasharray="1.4 0.8"/>
<rect x="1165.4" y="287" width="20.6" height="14.5" fill="#fff" stroke="#3a3a3a" stroke-width="0.9"/>
<path d="M1167.9 292.4h15.6M1167.9 296.1h15.6" stroke="#444" stroke-width="1.5" stroke-dasharray="1.4 0.8"/>
<rect x="1195.6" y="316" width="13.4" height="14.6" fill="#fff" stroke="#3a3a3a" stroke-width="0.9"/>
<path d="M1198.1 321.5h8.4M1198.1 325.1h8.4" stroke="#444" stroke-width="1.5" stroke-dasharray="1.4 0.8"/>
<rect x="1194.6" y="348.3" width="17.1" height="14.7" fill="#fff" stroke="#3a3a3a" stroke-width="0.9"/>
<path d="M1197.1 353.9h12.1M1197.1 357.5h12.1" stroke="#444" stroke-width="1.5" stroke-dasharray="1.4 0.8"/>
<rect x="1192.5" y="363" width="18.5" height="16.6" fill="#fff" stroke="#3a3a3a" stroke-width="0.9"/>
<path d="M1195.0 369.5h13.5M1195.0 373.1h13.5" stroke="#444" stroke-width="1.5" stroke-dasharray="1.4 0.8"/>
<rect x="1182" y="338" width="18.8" height="10" fill="#fff" stroke="#3a3a3a" stroke-width="0.9"/>
<path d="M1184.5 341.2h13.8M1184.5 344.8h13.8" stroke="#444" stroke-width="1.5" stroke-dasharray="1.4 0.8"/>
<rect x="1200" y="223" width="13" height="10" fill="#fff" stroke="#3a3a3a" stroke-width="0.9"/>
<path d="M1202.5 226.2h8.0M1202.5 229.8h8.0" stroke="#444" stroke-width="1.5" stroke-dasharray="1.4 0.8"/>
<polyline points="610,440.4 637,437 664,426 686,424 708,416 713,410 737,399 760,395 793,391 811,387 840,392 861,383.5 892.6,383.3 912,375.5 937,373.7 962,375.5 982,377.6 998,379.4 1011,378 1040,387 1084,388.5 1120,390.6" fill="none" stroke="#000" stroke-width="6" stroke-linejoin="round"/>
<polygon points="1085.5,78 1090.7,78 1085.4,492.5 1080,492.5" fill="#fff" fill-opacity="0.7"/>
<polygon points="1086.5,78 1089.7,78 1084.4,492.5 1081,492.5" fill="#e31c4b"/>
<polygon points="1125.4,37 1143,37 1136.6,492.7 1121,492.7" fill="#fff"/>
<path d="M1125.6 37V78M1142.8 37V78" stroke="#e2e2e2" stroke-width="1"/>
<polygon points="1128.9,37 1140.4,37 1133.7,492.7 1122.3,492.7" fill="#e31c4b"/>
<polygon points="1224.5,78 1226,78 1221.4,492.8 1220,492.8" fill="#fff" fill-opacity="0.8"/>
<polygon points="1226,78 1232.4,78 1228.3,492.8 1221.4,492.8" fill="#e31c4b"/>
<rect x="1058.1" y="81.9" width="26.6" height="21.7" fill="#fff" stroke="#1010a0" stroke-width="2.3"/>
<path d="M1065.4 103V88.8H1077.4V94.6H1070" fill="none" stroke="#1010a0" stroke-width="3.8"/>
<rect x="1229.8" y="63.8" width="45" height="13" fill="#fff" stroke="#1a1a9a" stroke-width="1.6"/>
<text x="1232.5" y="74.8" font-size="10.5" font-weight="bold" fill="#12127a" textLength="38" lengthAdjust="spacingAndGlyphs">PONTS</text>
<rect x="1232.8" y="77" width="42.5" height="9.6" fill="#1c1ca8"/>
<text x="1238" y="85" font-size="7.5" font-weight="bold" fill="#fff">FIRD</text>
<text x="1259" y="95.5" font-size="8.5" font-weight="bold" font-style="italic" fill="#111">HANT</text>
<path d="M1233.4 109.1h9.5" stroke="#555" stroke-width="1.1"/>
<text x="1246.2" y="112.8" font-size="10.8" fill="#2a2a2a" letter-spacing="0.3">010</text>
<path d="M1233.2 125.7h9.5" stroke="#555" stroke-width="1.1"/>
<text x="1246.0" y="129.4" font-size="10.8" fill="#2a2a2a" letter-spacing="0.3">200</text>
<path d="M1233.1 141.9h9.5" stroke="#555" stroke-width="1.1"/>
<text x="1245.9" y="145.6" font-size="10.8" fill="#2a2a2a" letter-spacing="0.3">050</text>
<path d="M1233.0 158.3h9.5" stroke="#555" stroke-width="1.1"/>
<text x="1245.8" y="162.0" font-size="10.8" fill="#2a2a2a" letter-spacing="0.3">007</text>
<path d="M1232.8 174.6h9.5" stroke="#555" stroke-width="1.1"/>
<text x="1245.6" y="178.3" font-size="10.8" fill="#2a2a2a" letter-spacing="0.3">200</text>
<path d="M1232.7 191.2h9.5" stroke="#555" stroke-width="1.1"/>
<text x="1245.5" y="194.9" font-size="10.8" fill="#2a2a2a" letter-spacing="0.3">200</text>
<path d="M1232.5 207.9h9.5" stroke="#555" stroke-width="1.1"/>
<text x="1245.3" y="211.6" font-size="10.8" fill="#2a2a2a" letter-spacing="0.3">290</text>
<path d="M1232.4 223.8h9.5" stroke="#555" stroke-width="1.1"/>
<text x="1245.2" y="227.4" font-size="10.8" fill="#2a2a2a" letter-spacing="0.3">540</text>
<path d="M1232.2 239.4h9.5" stroke="#555" stroke-width="1.1"/>
<text x="1245.0" y="243.1" font-size="10.8" fill="#2a2a2a" letter-spacing="0.3">900</text>
<path d="M1232.1 255.0h9.5" stroke="#555" stroke-width="1.1"/>
<text x="1244.9" y="258.7" font-size="10.8" fill="#2a2a2a" letter-spacing="0.3">500</text>
<path d="M1231.9 271.0h9.5" stroke="#555" stroke-width="1.1"/>
<text x="1244.7" y="274.7" font-size="10.8" fill="#2a2a2a" letter-spacing="0.3">590</text>
<path d="M1231.8 286.2h9.5" stroke="#555" stroke-width="1.1"/>
<text x="1244.6" y="289.9" font-size="10.8" fill="#2a2a2a" letter-spacing="0.3">600</text>
<path d="M1231.7 301.9h9.5" stroke="#555" stroke-width="1.1"/>
<text x="1244.5" y="305.6" font-size="10.8" fill="#2a2a2a" letter-spacing="0.3">300</text>
<path d="M1231.5 317.5h9.5" stroke="#555" stroke-width="1.1"/>
<text x="1244.3" y="321.2" font-size="10.8" fill="#2a2a2a" letter-spacing="0.3">300</text>
<path d="M1231.4 332.9h9.5" stroke="#555" stroke-width="1.1"/>
<text x="1244.2" y="336.6" font-size="10.8" fill="#2a2a2a" letter-spacing="0.3">547</text>
<path d="M1231.2 348.1h9.5" stroke="#555" stroke-width="1.1"/>
<text x="1244.0" y="351.8" font-size="10.8" fill="#2a2a2a" letter-spacing="0.3">585</text>
<text x="1230.1" y="365.8" font-size="8" font-weight="bold" fill="#222">≁</text>
<text x="1243.9" y="367.0" font-size="10.8" fill="#2a2a2a" letter-spacing="0.3">590</text>
<path d="M1231.0 378.0h9.5" stroke="#555" stroke-width="1.1"/>
<text x="1243.8" y="381.7" font-size="10.8" fill="#2a2a2a" letter-spacing="0.3">NAV</text>
<path d="M1230.8 393.8h9.5" stroke="#555" stroke-width="1.1"/>
<text x="1243.6" y="397.5" font-size="10.8" fill="#2a2a2a" letter-spacing="0.3">570</text>
<path d="M1230.7 409.0h9.5" stroke="#555" stroke-width="1.1"/>
<text x="1243.5" y="412.7" font-size="10.8" fill="#2a2a2a" letter-spacing="0.3">560</text>
<path d="M1230.5 424.2h9.5" stroke="#555" stroke-width="1.1"/>
<text x="1243.3" y="427.9" font-size="10.8" fill="#2a2a2a" letter-spacing="0.3">311</text>
<text x="1229.4" y="441.9" font-size="8" font-weight="bold" fill="#222">≁</text>
<text x="1243.2" y="443.1" font-size="10.8" fill="#2a2a2a" letter-spacing="0.3">507</text>
<path d="M1230.3 455.1h9.5" stroke="#555" stroke-width="1.1"/>
<text x="1243.1" y="458.8" font-size="10.8" fill="#2a2a2a" letter-spacing="0.3">NAV</text>
<path d="M1230.1 470.6h9.5" stroke="#555" stroke-width="1.1"/>
<text x="1242.9" y="474.3" font-size="10.8" fill="#2a2a2a" letter-spacing="0.3">007</text>
<text x="1229.0" y="487.6" font-size="8" font-weight="bold" fill="#222">⇁</text>
<text x="1242.8" y="488.8" font-size="10.8" fill="#2a2a2a" letter-spacing="0.3">8</text>
<text x="73.5" y="384.0" font-size="11.5" font-weight="bold" fill="#111">3000</text>
<text x="73.5" y="412.0" font-size="11.5" font-weight="bold" fill="#111">2000</text>
<text x="73.5" y="440.0" font-size="11.5" font-weight="bold" fill="#111">2000</text>
<text x="73.5" y="467.9" font-size="11.5" font-weight="bold" fill="#111">2000</text>
<text x="73.5" y="497.1" font-size="11.5" font-weight="bold" fill="#111">2006</text>
<text x="129.0" y="499.5" font-size="12" fill="#222" text-anchor="middle">100S</text>
<text x="180.1" y="499.5" font-size="12" fill="#222" text-anchor="middle">2017</text>
<text x="230.5" y="499.5" font-size="12" fill="#222" text-anchor="middle">2008</text>
<text x="280.9" y="499.5" font-size="12" fill="#222" text-anchor="middle">2017</text>
<text x="331.4" y="499.5" font-size="12" fill="#222" text-anchor="middle">2004</text>
<text x="381.9" y="499.5" font-size="12" fill="#222" text-anchor="middle">Aug</text>
<text x="432.9" y="499.5" font-size="12" fill="#222" text-anchor="middle">2019</text>
<text x="483.4" y="499.5" font-size="12" fill="#222" text-anchor="middle">2008</text>
<text x="533.6" y="499.5" font-size="12" fill="#222" text-anchor="middle">Jun4</text>
<text x="584.1" y="499.5" font-size="12" fill="#222" text-anchor="middle">2015</text>
<text x="634.5" y="499.5" font-size="12" fill="#222" text-anchor="middle">Aug</text>
<text x="684.9" y="499.5" font-size="12" fill="#222" text-anchor="middle">2017</text>
<text x="735.4" y="499.5" font-size="12" fill="#222" text-anchor="middle">2015</text>
<text x="785.9" y="499.5" font-size="12" fill="#222" text-anchor="middle">2017</text>
<text x="835.8" y="499.5" font-size="12" fill="#222" text-anchor="middle">2017</text>
<text x="885.4" y="499.5" font-size="12" fill="#222" text-anchor="middle">2005</text>
<text x="935.5" y="499.5" font-size="12" fill="#222" text-anchor="middle">2017</text>
<text x="985.2" y="499.5" font-size="12" fill="#222" text-anchor="middle">2005</text>
<text x="1034.9" y="499.5" font-size="12" fill="#222" text-anchor="middle">2015</text>
<g>
<text transform="translate(75.5,322) scale(0.88,1)" x="0" y="0" font-size="34.5" fill="#000" stroke="#000" stroke-width="3.9" stroke-linejoin="round" textLength="110.3" lengthAdjust="spacing">$5000</text>
<text transform="translate(75.5,322) scale(0.88,1)" x="0" y="0" font-size="34.5" fill="#fff" stroke="#fff" stroke-width="1.1" stroke-linejoin="round" textLength="110.3" lengthAdjust="spacing">$5000</text>
<text transform="translate(241,322) scale(0.88,1)" x="0" y="0" font-size="34.5" fill="#000" stroke="#000" stroke-width="3.9" stroke-linejoin="round" textLength="82.5" lengthAdjust="spacing">1005</text>
<text transform="translate(241,322) scale(0.88,1)" x="0" y="0" font-size="34.5" fill="#fff" stroke="#fff" stroke-width="1.1" stroke-linejoin="round" textLength="82.5" lengthAdjust="spacing">1005</text>
<text transform="translate(75.5,363.5) scale(0.88,1)" x="0" y="0" font-size="34.5" fill="#000" stroke="#000" stroke-width="3.9" stroke-linejoin="round" textLength="155.8" lengthAdjust="spacing">$207891</text>
<text transform="translate(75.5,363.5) scale(0.88,1)" x="0" y="0" font-size="34.5" fill="#fff" stroke="#fff" stroke-width="1.1" stroke-linejoin="round" textLength="155.8" lengthAdjust="spacing">$207891</text>
<path d="M186 318L182.5 331" stroke="#000" stroke-width="4.2"/><path d="M186 318.8L182.8 330" stroke="#fff" stroke-width="1.6"/>
</g>
<g font-size="13" fill="#111" style="white-space:pre">
<text x="582.5" y="634" textLength="257" lengthAdjust="spacingAndGlyphs">Avrge RAW IS Lust Prire Lust Montne DOR8</text>
<text x="582.5" y="650.5" textLength="215" lengthAdjust="spacingAndGlyphs">Poiker Pickes : 1 21 , 2015 788 20SS</text>
<text x="582.5" y="666.5" textLength="77" lengthAdjust="spacingAndGlyphs">Montpl.com.</text>
<text x="681.2" y="666.5" textLength="115" lengthAdjust="spacingAndGlyphs">Deepet 238 28.488</text>
</g>
</svg></body></html>
